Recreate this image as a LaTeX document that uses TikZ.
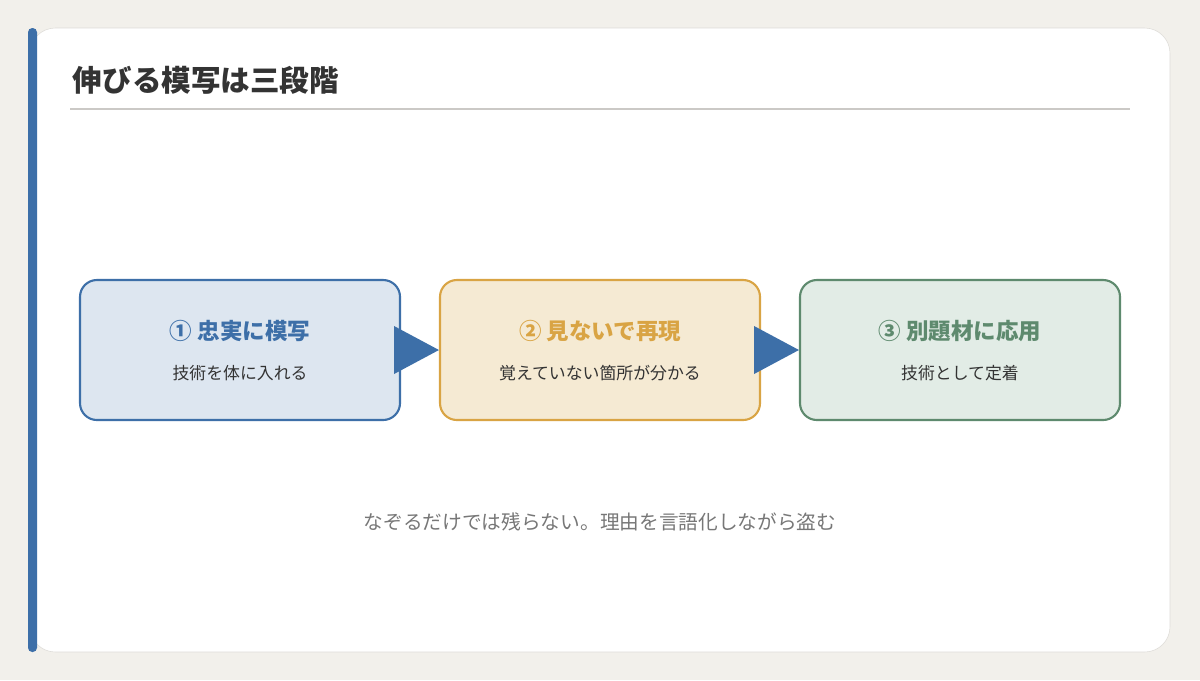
\documentclass[tikz,border=0pt]{standalone}
\usepackage{fontspec}
\newfontfamily\cjk{Noto Sans CJK JP}
\usetikzlibrary{calc}
\definecolor{pagebg}{HTML}{F2F0EB}
\definecolor{cardline}{HTML}{DEDCD8}
\definecolor{stepblue}{HTML}{3D6FA8}
\definecolor{blueback}{HTML}{DDE6F0}
\definecolor{steporange}{HTML}{D9A444}
\definecolor{orangeback}{HTML}{F5EAD3}
\definecolor{stepgreen}{HTML}{5E8A6E}
\definecolor{greenback}{HTML}{E2ECE6}
\definecolor{textdark}{HTML}{333333}
\definecolor{textgray}{HTML}{777777}
\begin{document}
\begin{tikzpicture}[x=0.025cm,y=-0.025cm]
    \tikzstyle{stage}=[draw,rounded corners=12,line width=1.5pt,minimum width=320*0.025cm,minimum height=140*0.025cm]
    \tikzstyle{head}=[font=\cjk\bfseries\fontsize{16}{18}\selectfont]
    \tikzstyle{sub}=[font=\cjk\fontsize{12}{14}\selectfont,text=textdark]
    \tikzstyle{link}=[fill=stepblue]

    \useasboundingbox (0,0) rectangle (1200,680);
    \fill[pagebg] (0,0) rectangle (1200,680);
    \draw[cardline,fill=white,rounded corners=18] (30,28) rectangle (1170,652);
    \fill[stepblue,rounded corners=3] (28,28) rectangle (37,652);

    \node[anchor=west,font=\cjk\bfseries\fontsize{21}{24}\selectfont,text=textdark] (title) at (68,80) {伸びる模写は三段階};
    \draw[cardline!80!gray,line width=1pt] (70,109) -- (1130,109);

    \node[stage,draw=stepblue,fill=blueback] (b1) at (240,350) {};
    \node[stage,draw=steporange,fill=orangeback] (b2) at (600,350) {};
    \node[stage,draw=stepgreen,fill=greenback] (b3) at (960,350) {};

    \node[head,text=stepblue] (h1) at (240,331) {① 忠実に模写};
    \node[sub] (s1) at (240,373) {技術を体に入れる};
    \node[head,text=steporange] (h2) at (600,331) {② 見ないで再現};
    \node[sub] (s2) at (600,373) {覚えていない箇所が分かる};
    \node[head,text=stepgreen] (h3) at (960,331) {③ 別題材に応用};
    \node[sub] (s3) at (960,373) {技術として定着};

    \fill[link] ($(b1.east)+(-7,-24)$) -- (b2.west) -- ($(b1.east)+(-7,24)$) -- cycle;
    \fill[link] ($(b2.east)+(-7,-24)$) -- (b3.west) -- ($(b2.east)+(-7,24)$) -- cycle;

    \node[font=\cjk\fontsize{14}{16}\selectfont,text=textgray] (note) at (600,522) {なぞるだけでは残らない。理由を言語化しながら盗む};
\end{tikzpicture}
\end{document}
